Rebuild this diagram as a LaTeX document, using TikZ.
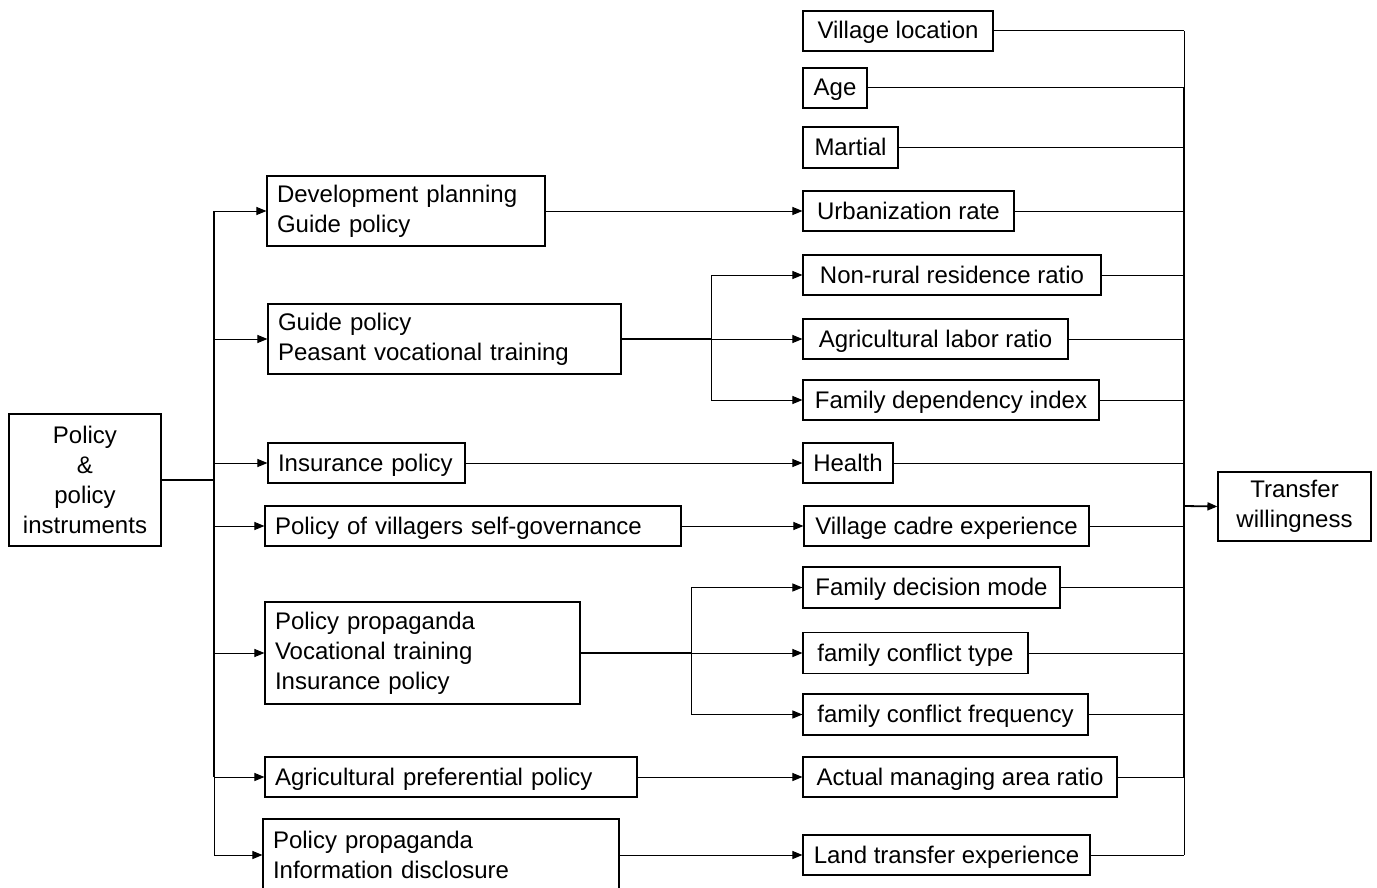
\documentclass[tikz,border=0pt]{standalone}
\usepackage{fontspec}
\setmainfont{Liberation Sans}
\usetikzlibrary{arrows.meta}
\begin{document}
\begin{tikzpicture}[x=1pt,y=-1pt,
  box/.style={draw, line width=1.1pt, rectangle, inner xsep=10pt, inner ysep=0pt,
    font=\fontsize{24}{30}\selectfont},
  lbox/.style={box, align=left},
  cbox/.style={box, align=center},
  one/.style={text height=17pt, text depth=1pt},
  conn/.style={line width=1pt},
  bold/.style={line width=1.8pt},
  arr/.style={conn, -{Triangle[length=10pt,width=8pt]}},
  barr/.style={bold, -{Triangle[length=10pt,width=8pt]}}]
\useasboundingbox (0,0) rectangle (1377,888);

% left box
\node[cbox, minimum width=152pt, minimum height=132pt] (p) at (85,480)
  {Policy\\\&\\policy\\instruments};

% middle boxes
\node[lbox, text width=258pt, minimum height=70pt] (m1) at (406,211) {Development planning\\Guide policy};
\node[lbox, text width=333pt, minimum height=70pt] (m2) at (444.5,339) {Guide policy\\Peasant vocational training};
\node[lbox, one, text width=177pt, minimum height=40pt] (m3) at (366.5,463) {Insurance policy};
\node[lbox, one, text width=396pt, minimum height=40pt] (m4) at (473,526) {Policy of villagers self-governance};
\node[lbox, text width=295pt, minimum height=102pt] (m5) at (422.5,653) {Policy propaganda\\Vocational training\\Insurance policy};
\node[lbox, one, text width=352pt, minimum height=40pt] (m6) at (451,777) {Agricultural preferential policy};
\node[lbox, text width=336pt, minimum height=72pt] (m7) at (441,855) {Policy propaganda\\Information disclosure};

% right boxes
\node[cbox, one, minimum width=190pt, minimum height=40pt] (r1) at (898,31) {Village location};
\node[cbox, one, minimum width=64pt, minimum height=40pt] (r2) at (835,88) {Age};
\node[cbox, one, minimum width=95pt, minimum height=41pt] (r3) at (850.5,147.5) {Martial};
\node[cbox, one, minimum width=211pt, minimum height=40pt] (r4) at (908.5,211) {Urbanization rate};
\node[cbox, one, minimum width=298pt, minimum height=40pt] (r5) at (952,275) {Non-rural residence ratio};
\node[cbox, one, minimum width=265pt, minimum height=40pt] (r6) at (935.5,339) {Agricultural labor ratio};
\node[cbox, one, minimum width=296pt, minimum height=40pt] (r7) at (951,400) {Family dependency index};
\node[cbox, one, minimum width=90pt, minimum height=40pt] (r8) at (848,463) {Health};
\node[cbox, one, minimum width=285pt, minimum height=40pt] (r9) at (946.5,526) {Village cadre experience};
\node[cbox, one, minimum width=257pt, minimum height=41pt] (r10) at (931.5,587.5) {Family decision mode};
\node[cbox, one, minimum width=225pt, minimum height=41pt] (r11) at (915.5,653) {family conflict type};
\node[cbox, one, minimum width=285pt, minimum height=41pt] (r12) at (945.5,714.5) {family conflict frequency};
\node[cbox, one, minimum width=314pt, minimum height=40pt] (r13) at (960,777) {Actual managing area ratio};
\node[cbox, one, minimum width=287pt, minimum height=40pt] (r14) at (946.5,855) {Land transfer experience};

% target
\node[cbox, minimum width=153pt, minimum height=69pt] (t) at (1294.5,506.5) {Transfer\\willingness};

% left trunk
\coordinate (tx) at (214,480);
\draw[bold] (p.east) -- (tx);
\draw[bold] (m1.west -| tx) -- (m6.west -| tx);
\draw[conn] (m6.west -| tx) -- (m7.west -| tx);
\foreach \m in {m1,m2,m3,m4,m5,m6,m7}
  \draw[arr] (\m.west -| tx) -- (\m.west);

% branch from m2
\coordinate (b2) at (711,339);
\draw[bold] (m2.east) -- (b2);
\draw[conn] (r5.west -| b2) -- (r7.west -| b2);
\foreach \r in {r5,r6,r7}
  \draw[arr] (\r.west -| b2) -- (\r.west);

% branch from m5
\coordinate (b5) at (691,653);
\draw[bold] (m5.east) -- (b5);
\draw[conn] (r10.west -| b5) -- (r12.west -| b5);
\foreach \r in {r10,r11,r12}
  \draw[arr] (\r.west -| b5) -- (\r.west);

% direct arrows
\draw[arr] (m1.east) -- (r4.west);
\draw[arr] (m3.east) -- (r8.west);
\draw[arr] (m4.east) -- (r9.west);
\draw[arr] (m6.east) -- (r13.west);
\draw[arr] (m7.east) -- (r14.west);

% right collector
\coordinate (cx) at (1184,506);
\draw[conn] (r1.east -| cx) -- (r2.east -| cx);
\draw[bold] (r2.east -| cx) -- (r13.east -| cx);
\draw[conn] (r13.east -| cx) -- (r14.east -| cx);
\foreach \r in {r1,r2,r3,r4,r5,r6,r7,r8,r9,r10,r11,r12,r13,r14}
  \draw[conn] (\r.east) -- (\r.east -| cx);
\draw[barr] (cx) -- (t.west);
\end{tikzpicture}
\end{document}
